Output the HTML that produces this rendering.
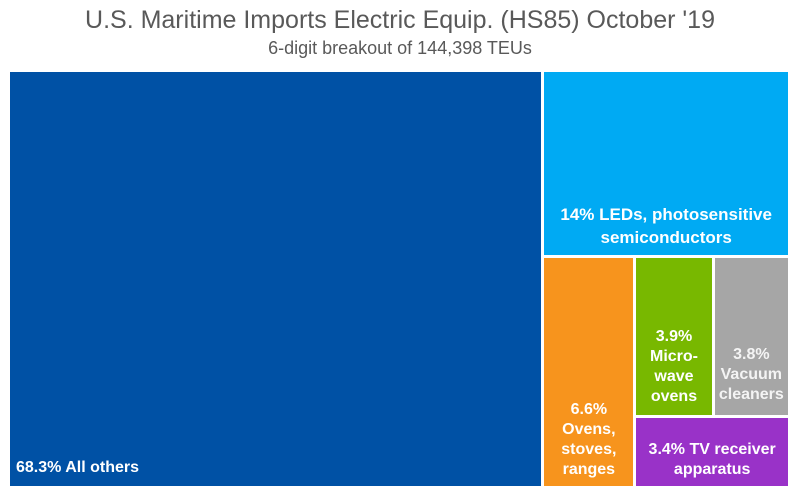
<!DOCTYPE html>
<html><head><meta charset="utf-8"><style>
body{margin:0;width:800px;height:498px;background:#fff;overflow:hidden;font-family:"Liberation Sans",sans-serif}
#title{position:absolute;left:0;top:6px;width:800px;text-align:center;font-size:25px;color:#595959}
#sub{position:absolute;left:0;top:38px;width:800px;text-align:center;font-size:18px;color:#595959}
.cell{position:absolute;box-sizing:border-box;color:#fff;font-weight:bold;font-size:16px;line-height:20px;display:flex;flex-direction:column;justify-content:flex-end;text-align:center;padding-bottom:6px}
</style></head><body>
<div id="title">U.S. Maritime Imports Electric Equip. (HS85) October '19</div>
<div id="sub">6-digit breakout of 144,398 TEUs</div>
<div id="chart"></div>
<script>
const categories=["All others","LEDs, photosensitive semiconductors","Ovens, stoves, ranges","Microwave ovens","Vacuum cleaners","TV receiver apparatus"];
const values=[68.3,14,6.6,3.9,3.8,3.4];
const labels=["68.3% All others","14% LEDs, photosensitive<br>semiconductors","6.6%<br>Ovens,<br>stoves,<br>ranges","3.9%<br>Micro-<br>wave<br>ovens","3.8%<br>Vacuum<br>cleaners","3.4% TV receiver<br>apparatus"];
const colors=["#0051a5","#00aaf3","#f7941d","#78b800","#a6a6a6","#9932c8"];
const names=["cell-all-others","cell-leds","cell-ovens","cell-microwave","cell-vacuum","cell-tv-receiver"];
const X0=10,Y0=72,W=778,H=414,G=3;
const rects=[];
const tot=values.reduce((a,b)=>a+b,0);
const w0=W*values[0]/tot;
rects[0]=[X0,Y0,w0,H];
const rx=X0+w0,rw=W-w0,rest=tot-values[0];
const h1=H*values[1]/rest;
rects[1]=[rx,Y0,rw,h1];
const by=Y0+h1,bh=H-h1,rest2=rest-values[1];
const w2=rw*values[2]/rest2;
rects[2]=[rx,by,w2,bh];
const gx=rx+w2,gw=rw-w2,rest3=rest2-values[2];
const h5=bh*values[5]/rest3;
const th=bh-h5;
const w3=gw*values[3]/(values[3]+values[4]);
rects[3]=[gx,by,w3,th];
rects[4]=[gx+w3,by,gw-w3,th];
rects[5]=[gx,by+th,gw,h5];
const chart=document.getElementById('chart');
rects.forEach((r,i)=>{
  const d=document.createElement('div');
  d.className='cell';
  
  
  const l=i===0?0:G, t=(i===0||i===1)?0:G;
  d.style.left=(r[0]+l)+'px';d.style.top=(r[1]+t)+'px';
  d.style.width=(r[2]-l)+'px';d.style.height=(r[3]-t)+'px';
  d.style.background=colors[i];
  if(i===0){d.style.textAlign='left';d.style.paddingLeft='6px';d.style.paddingBottom='8px';}
  if(i===1){d.style.fontSize='17px';d.style.lineHeight='23px';}
  if(i===4){d.style.color='#f4f4f4';d.style.paddingBottom='10px';}
  if(i===3){d.style.paddingBottom='8px';}
  d.innerHTML='<span>'+labels[i]+'</span>';
  chart.appendChild(d);
});
</script>
</body></html>
